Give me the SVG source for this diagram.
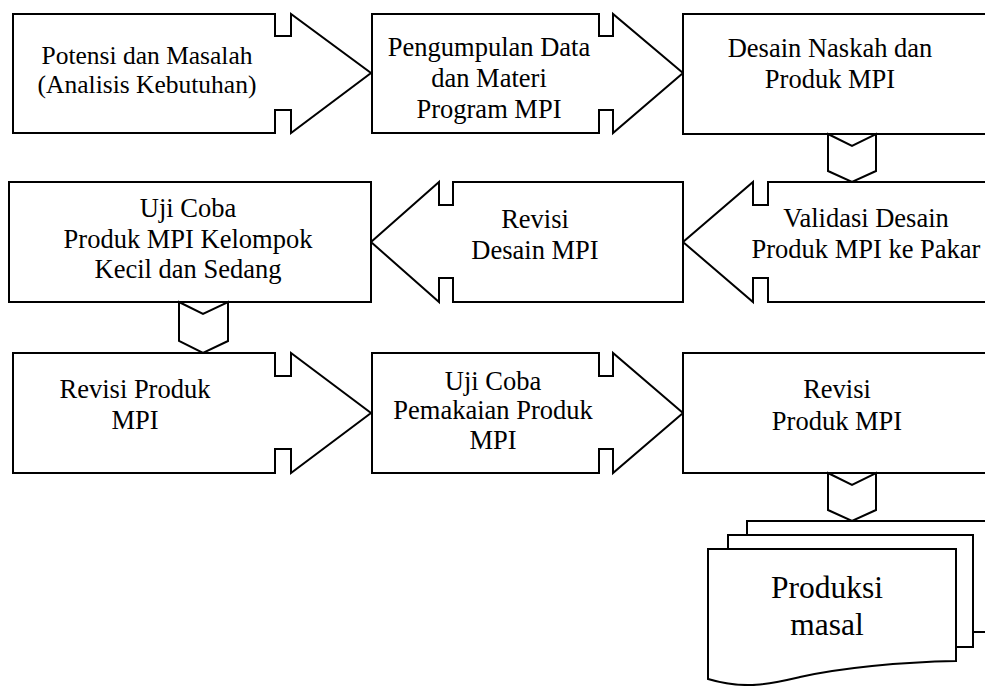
<svg xmlns="http://www.w3.org/2000/svg" width="985" height="686" viewBox="0 0 985 686">
<style>
.s{fill:#fff;stroke:#000;stroke-width:2;stroke-linejoin:miter}
text{font-family:'Liberation Serif','Times New Roman','DejaVu Serif',serif;font-size:26.5px;fill:#000;text-anchor:middle}
.b{font-size:31.5px}
.m{font-size:25.5px}
</style>
<rect width="985" height="686" fill="#fff"/>
<g font-family="Liberation Serif, Times New Roman, serif">
<g id="n1"><path class="s" d="M13,14 H275 V36 H291 V14 L371,73 L291,133 V110 H275 V133 H13 Z"/>
<text class="m" x="147" y="64">Potensi dan Masalah</text><text class="m" x="147" y="93">(Analisis Kebutuhan)</text></g>
<g id="n2"><path class="s" d="M372,14 H599 V36 H613 V14 L683,73 L613,133 V110 H599 V133 H372 Z"/>
<text x="489" y="56">Pengumpulan Data</text><text x="489" y="87">dan Materi</text><text x="489" y="118">Program MPI</text></g>
<g id="n3"><path class="s" d="M683,14 H1000 V134 H683 Z"/>
<text x="830" y="57">Desain Naskah dan</text><text x="830" y="88">Produk MPI</text></g>
<g id="n4"><path class="s" d="M1000,182 H768 V205 H753 V182 L683,242 L753,302 V278 H768 V302 H1000 Z"/>
<text x="866" y="227">Validasi Desain</text><text x="866" y="258">Produk MPI ke Pakar</text></g>
<g id="n5"><path class="s" d="M683,182 H453 V205 H439 V182 L371,242 L439,302 V278 H453 V302 H683 Z"/>
<text x="535" y="228">Revisi</text><text x="535" y="259">Desain MPI</text></g>
<g id="n6"><path class="s" d="M9,182 H371 V302 H9 Z"/>
<text x="188" y="217">Uji Coba</text><text x="188" y="248">Produk MPI Kelompok</text><text x="188" y="278">Kecil dan Sedang</text></g>
<g id="n7"><path class="s" d="M13,353 H275 V376 H291 V353 L371,413 L291,473 V449 H275 V473 H13 Z"/>
<text x="135" y="398">Revisi Produk</text><text x="135" y="429">MPI</text></g>
<g id="n8"><path class="s" d="M372,353 H599 V376 H613 V353 L683,413 L613,473 V449 H599 V473 H372 Z"/>
<text x="493" y="390">Uji Coba</text><text x="493" y="419">Pemakaian Produk</text><text x="493" y="449">MPI</text></g>
<g id="n9"><path class="s" d="M683,353 H1000 V473 H683 Z"/>
<text x="837" y="398">Revisi</text><text x="837" y="430">Produk MPI</text></g>
<g id="n10">
<path class="s" d="M747,535 V521 H1000 V632 H973 V535 Z"/>
<path class="s" d="M728,549 V535 H973 V647 H956 V549 Z"/>
<path class="s" d="M708,549 H956 V661 C900,662 840,668 800,677 C770,684 745,690 708,679 Z"/>
<text class="b" x="827" y="598">Produksi</text><text class="b" x="827" y="635">masal</text></g>
</g>
<g id="connectors">
<path class="s" d="M828,134 L852,146 L876,134 V171 L852,182 L828,171 Z"/>
<path class="s" d="M179,302 L203,314 L228,302 V341 L203,353 L179,341 Z"/>
<path class="s" d="M828,473 L852,485 L876,473 V510 L852,521 L828,510 Z"/>
</g>
</svg>
